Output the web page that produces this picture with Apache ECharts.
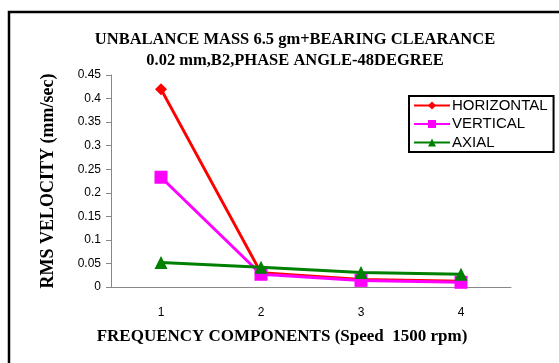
<!DOCTYPE html>
<html><head><meta charset="utf-8">
<script src="https://cdn.jsdelivr.net/npm/echarts@6/dist/echarts.min.js"></script>
<style>html,body{margin:0;padding:0;background:#fff}#c{width:559px;height:363px}</style>
</head><body><div id="c"></div>
<script>
var categories = ['1', '2', '3', '4'];
var horizontal = [0.42, 0.03, 0.016, 0.012];
var vertical = [0.233, 0.027, 0.014, 0.01];
var axial = [0.052, 0.042, 0.031, 0.027];
var yTicks = [0, 0.05, 0.1, 0.15, 0.2, 0.25, 0.3, 0.35, 0.4, 0.45];

var chart = echarts.init(document.getElementById('c'));
chart.setOption({
  animation: false,
  backgroundColor: '#fff',
  title: {
    text: 'UNBALANCE MASS 6.5 gm+BEARING CLEARANCE\n0.02 mm,B2,PHASE ANGLE-48DEGREE',
    left: 290, top: 24, textAlign: 'center',
    textStyle: { fontFamily: 'Liberation Serif', fontWeight: 'bold', fontSize: 16.5, lineHeight: 21, color: '#000' }
  },
  graphic: [{
    type: 'rect', shape: { x: 9, y: 12, width: 600, height: 400 },
    style: { fill: 'none', stroke: '#000', lineWidth: 2.5 }, z: 100
  }],
  legend: {
    orient: 'vertical', left: 409, top: 96,
    itemWidth: 36, itemHeight: 10, itemGap: 3.5,
    padding: [2, 6, 2, 4],
    borderColor: '#000', borderWidth: 2, backgroundColor: '#fff',
    textStyle: { fontFamily: 'Liberation Sans', fontSize: 15, color: '#000', padding: [0, 0, 0, -3] },
    data: ['HORIZONTAL', 'VERTICAL', 'AXIAL']
  },
  grid: { left: 111, right: 48, top: 75, bottom: 76 },
  xAxis: {
    type: 'category', data: categories, boundaryGap: true,
    name: 'FREQUENCY COMPONENTS (Speed  1500 rpm)', nameLocation: 'middle', nameGap: 41,
    nameTextStyle: { fontFamily: 'Liberation Serif', fontWeight: 'bold', fontSize: 17, color: '#000', padding: [0, 0, 0, -58] },
    axisLine: { lineStyle: { color: '#888', width: 1 } },
    axisTick: { length: 5, lineStyle: { color: '#888' } },
    axisLabel: { fontFamily: 'Liberation Sans', fontSize: 12, color: '#000', margin: 20 }
  },
  yAxis: {
    type: 'value', min: 0, max: 0.45, interval: 0.05,
    name: 'RMS VELOCITY (mm/sec)', nameLocation: 'middle', nameGap: 54, nameRotate: 90,
    nameTextStyle: { fontFamily: 'Liberation Serif', fontWeight: 'bold', fontSize: 18, color: '#000' },
    axisLine: { show: true, lineStyle: { color: '#888', width: 1 } },
    axisTick: { show: true, length: 5, lineStyle: { color: '#888' } },
    splitLine: { show: false },
    axisLabel: { fontFamily: 'Liberation Sans', fontSize: 12, color: '#000', margin: 10,
      formatter: function (v) { var i = yTicks.indexOf(Math.round(v * 100) / 100); return i >= 0 ? String(yTicks[i]) : ''; } }
  },
  series: [
    { name: 'HORIZONTAL', type: 'line', data: horizontal, symbol: 'diamond', symbolSize: 12,
      itemStyle: { color: '#ff0000' }, lineStyle: { color: '#ff0000', width: 3 }, z: 2 },
    { name: 'VERTICAL', type: 'line', data: vertical, symbol: 'rect', symbolSize: 13,
      itemStyle: { color: '#ff00ff' }, lineStyle: { color: '#ff00ff', width: 3 }, z: 3 },
    { name: 'AXIAL', type: 'line', data: axial, symbol: 'triangle', symbolSize: 13,
      itemStyle: { color: '#008000' }, lineStyle: { color: '#008000', width: 3 }, z: 4 }
  ]
});
</script></body></html>
